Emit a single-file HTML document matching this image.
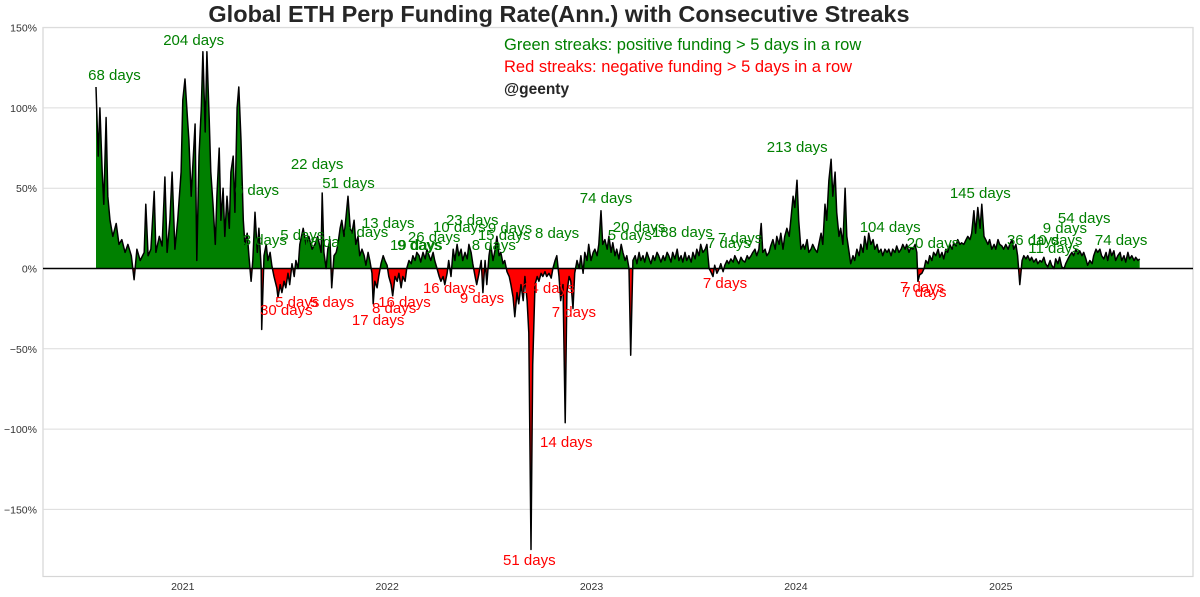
<!DOCTYPE html>
<html><head><meta charset="utf-8">
<style>
html,body{margin:0;padding:0;background:#fff;}
svg{display:block;font-family:"Liberation Sans",Arial,sans-serif;}
</style></head>
<body>
<svg id="chart" width="1200" height="597" viewBox="0 0 1200 597" xmlns="http://www.w3.org/2000/svg">
<text x="559" y="22" text-anchor="middle" font-size="23.5" font-weight="bold" fill="#262626">Global ETH Perp Funding Rate(Ann.) with Consecutive Streaks</text>
<rect x="43" y="27.5" width="1150" height="549" fill="#fff" stroke="#d6d6d6" stroke-width="1.2"/>
<g id="grid"></g>
<g id="yticks"></g>
<g id="xticks"></g>
<defs>
<clipPath id="clipPos"><rect id="cpPos" x="43" y="27" width="1150" height="0"/></clipPath>
<clipPath id="clipNeg"><rect id="cpNeg" x="43" y="0" width="1150" height="0"/></clipPath>
</defs>
<g id="series"></g>
<g id="labels"></g>
<text x="504" y="50" font-size="16.5" fill="#008000">Green streaks: positive funding &gt; 5 days in a row</text>
<text x="504" y="72" font-size="16.5" fill="#ff0000">Red streaks: negative funding &gt; 5 days in a row</text>
<text x="504" y="94" font-size="15.5" font-weight="bold" fill="#262626">@geenty</text>
</svg>
<script>
// Data: day offsets from 2020-07-30 and annualized funding (%)
const startDate = "2020-07-30";
const days = [0,4,7,11,14,18,21,25,30,36,41,46,52,57,63,68,73,79,86,89,93,98,104,107,113,118,123,127,132,136,141,146,152,155,159,163,166,170,173,177,180,184,188,191,195,198,202,205,209,213,216,220,223,227,230,234,238,241,245,248,252,255,259,263,266,270,273,277,280,284,288,291,295,296,300,304,307,311,314,318,323,325,329,332,336,339,343,346,350,354,357,361,364,370,375,380,386,391,396,402,404,407,411,414,418,421,425,429,432,436,439,443,446,450,454,457,461,464,468,471,475,479,482,486,489,493,495,498,502,505,509,513,516,520,523,527,530,534,538,541,545,548,552,555,559,563,566,570,573,577,580,584,588,591,595,598,602,605,609,613,616,620,623,627,630,634,638,641,645,648,652,655,659,663,666,670,673,677,680,684,688,691,695,698,702,705,709,713,716,720,723,727,730,734,738,741,745,748,752,755,759,763,766,770,773,777,780,784,788,791,795,798,802,805,809,813,816,820,823,827,830,834,838,841,845,848,852,855,859,863,866,870,873,877,880,884,888,891,895,898,902,905,909,913,916,920,923,927,930,934,938,941,945,948,952,955,959,963,966,970,973,977,980,984,988,991,995,998,1002,1005,1009,1013,1016,1020,1023,1027,1030,1034,1038,1041,1045,1048,1052,1055,1059,1063,1066,1070,1073,1077,1080,1084,1088,1091,1095,1098,1102,1105,1109,1113,1116,1120,1123,1127,1130,1134,1138,1141,1145,1148,1152,1155,1159,1163,1166,1170,1173,1177,1180,1184,1188,1191,1195,1198,1202,1205,1209,1213,1216,1220,1223,1227,1230,1234,1238,1241,1245,1248,1252,1255,1259,1263,1266,1270,1273,1277,1280,1284,1288,1291,1295,1298,1302,1305,1309,1313,1316,1320,1323,1327,1330,1334,1338,1341,1345,1348,1352,1355,1359,1363,1366,1370,1373,1377,1380,1384,1388,1391,1395,1398,1402,1405,1409,1413,1416,1420,1423,1427,1430,1434,1438,1441,1445,1448,1452,1455,1459,1463,1466,1468,1471,1475,1479,1482,1486,1489,1493,1496,1500,1504,1507,1511,1514,1518,1521,1525,1529,1532,1536,1539,1543,1546,1550,1554,1557,1561,1564,1568,1571,1575,1579,1582,1586,1589,1593,1596,1600,1604,1607,1611,1614,1618,1621,1625,1629,1632,1636,1639,1643,1646,1650,1654,1657,1661,1664,1668,1671,1675,1679,1682,1686,1689,1693,1696,1700,1704,1707,1711,1714,1718,1721,1725,1729,1732,1736,1739,1743,1746,1750,1754,1757,1761,1764,1768,1771,1775,1779,1782,1786,1789,1793,1796,1800,1804,1807,1811,1814,1818,1821,1825,1829,1832,1836,1839,1843,1846,1850,1854,1857,1861,1864];
const rates = [113,70,100,60,40,94,45,30,20,28,15,18,10,15,8,-7,12,5,10,40,8,12,48,10,20,14,57,10,30,60,12,30,60,105,118,95,80,45,65,90,5,70,100,135,85,135,95,60,40,15,45,75,30,50,20,45,25,60,70,35,100,113,80,30,15,22,8,-8,5,35,10,25,0,-38,8,15,5,10,2,-5,-12,-18,-10,-15,-8,-12,-3,-10,3,-5,5,0,15,25,15,20,12,15,20,10,47,10,0,12,18,-12,8,10,15,25,30,20,30,45,25,22,30,15,20,8,12,8,2,10,5,-3,-22,-8,-12,-5,3,8,5,2,-5,-10,-17,-5,-8,-3,-12,-5,-8,0,5,3,8,5,10,8,4,10,6,12,8,5,10,5,0,-5,-8,-5,-10,-3,5,-5,12,5,15,8,12,5,10,6,15,10,3,-5,-10,-3,5,-15,5,-10,8,15,5,12,20,8,10,3,5,-2,-5,-10,-18,-30,-15,-22,-10,-20,-5,-20,-40,-175,-60,-10,-5,-8,-3,-5,-2,-5,-3,-6,0,5,8,-5,-20,-10,-96,-15,-5,-8,-25,-3,5,0,8,-3,10,5,15,5,10,12,8,15,36,15,18,12,20,10,16,8,12,6,15,10,5,8,0,-54,5,8,3,10,5,8,4,10,6,3,8,5,10,8,4,8,5,10,8,4,10,6,12,5,8,4,10,5,8,4,10,6,12,8,15,10,12,15,0,-2,-5,2,-3,0,3,-2,2,5,3,6,4,8,5,3,7,5,4,8,6,8,10,12,8,12,28,10,12,8,10,14,18,12,20,15,22,12,20,25,20,30,45,38,55,30,12,15,12,18,10,12,15,12,10,15,22,15,40,30,55,68,45,60,35,20,25,15,50,20,10,3,8,5,12,8,15,10,20,12,22,15,18,12,15,10,12,8,12,10,12,8,12,10,14,10,12,15,12,15,10,13,12,15,10,-8,-4,-3,0,5,3,8,5,10,8,12,7,10,6,12,10,15,12,16,14,18,15,16,15,18,20,18,22,36,22,38,25,40,20,18,15,18,12,15,12,18,15,14,12,15,12,15,18,12,15,8,-10,5,8,6,8,5,7,4,6,3,5,4,7,3,1,5,2,0,6,3,7,1,0,3,6,8,10,8,12,9,11,8,10,6,2,5,3,8,12,10,12,8,6,10,5,12,8,11,5,8,10,5,8,4,10,6,8,5,7,5,6];
const yTicks = [150,100,50,0,-50,-100,-150];
const yTickLabels = ["150%","100%","50%","0%","\u221250%","\u2212100%","\u2212150%"];
const xTickYears = [2021,2022,2023,2024,2025];
// Streak annotations: text, anchor day offset, anchor value level (%), colour class
const streakText = ["68 days","204 days","6 days","22 days","51 days","5 days","18 days","3 days","13 days","6 days","19 days","9 days","26 days","10 days","23 days","15 days","9 days","8 days","8 days","74 days","20 days","5 days","188 days","7 days","7 days","213 days","104 days","20 days","145 days","36 days","10 days","9 days","54 days","11 days","74 days","30 days","5 days","5 days","17 days","8 days","16 days","16 days","9 days","14 days","7 days","14 days","51 days","7 days","7 days","7 days"];
const streakDay = [-14,120,248,348,404,329,368,262,475,443,525,538,557,602,625,682,700,671,784,864,923,914,993,1091,1111,1198,1364,1448,1525,1627,1668,1691,1718,1665,1784,293,320,382,457,493,504,584,650,761,814,793,727,1084,1436,1440];
const streakVal = [117.4,139.2,45.8,62,50.1,17.7,13.4,14.6,25.2,19.6,11.5,11.5,16.5,22.7,27.1,17.7,22.1,11.5,19,40.8,22.7,17.7,19.6,12.8,15.9,72.5,22.7,12.8,43.9,14.6,14.6,22.1,28.3,9.7,14.6,-29,-24,-24,-35.2,-27.7,-24,-15.3,-21.5,-15.3,-30.2,-111,-184.6,-12.1,-14.6,-17.7];
const streakPos = ["g","g","g","g","g","g","g","g","g","g","g","g","g","g","g","g","g","g","g","g","g","g","g","g","g","g","g","g","g","g","g","g","g","g","g","r","r","r","r","r","r","r","r","r","r","r","r","r","r","r"];

const NS="http://www.w3.org/2000/svg";
const X0=96, PXD=0.5599, Y0=268.5, PYV=1.606;
const startMs=Date.parse(startDate+"T00:00:00Z");
function xScale(d){return X0+d*PXD;}
function yScale(v){return Y0-v*PYV;}
function dayOf(y){return (Date.parse(y+"-01-01T00:00:00Z")-startMs)/86400000;}
function mk(tag,attrs,parent){const e=document.createElementNS(NS,tag);for(const k in attrs)e.setAttribute(k,attrs[k]);parent.appendChild(e);return e;}

const grid=document.getElementById('grid'), yt=document.getElementById('yticks'), xt=document.getElementById('xticks');
yTicks.forEach((v,i)=>{
  const y=yScale(v);
  if(v!==0){const l=mk('line',{x1:43,x2:1193,y1:y,y2:y,stroke:'#dcdcdc','stroke-width':1},grid);
  
  }
  const t=mk('text',{x:37,y:y+4,'text-anchor':'end','font-size':10.5,fill:'#333'},yt);
  t.textContent=yTickLabels[i];
  
  
});
xTickYears.forEach(yr=>{
  const t=mk('text',{x:xScale(dayOf(yr)),y:590,'text-anchor':'middle','font-size':10.5,fill:'#333'},xt);
  t.textContent=String(yr);
  
  
});

const zy=yScale(0);
document.getElementById('cpPos').setAttribute('height',zy-27);
document.getElementById('cpNeg').setAttribute('y',zy);
document.getElementById('cpNeg').setAttribute('height',597-zy);
const series=document.getElementById('series');
let pts=days.map((d,i)=>xScale(d).toFixed(1)+','+yScale(rates[i]).toFixed(1));
const areaD='M'+xScale(days[0]).toFixed(1)+','+zy+' L'+pts.join(' L')+' L'+xScale(days[days.length-1]).toFixed(1)+','+zy+' Z';
const ap=mk('path',{d:areaD,fill:'#008000','clip-path':'url(#clipPos)'},series);


const an=mk('path',{d:areaD,fill:'#ff0000','clip-path':'url(#clipNeg)'},series);


const zl=mk('line',{x1:43,x2:1193,y1:zy,y2:zy,stroke:'#000','stroke-width':1.5},series);


const ln=mk('path',{d:'M'+pts.join(' L'),fill:'none',stroke:'#000','stroke-width':1.5,'stroke-linejoin':'round'},series);



const labels=document.getElementById('labels');
streakText.forEach((s,i)=>{
  const g=streakPos[i]==='g';
  const t=mk('text',{x:xScale(streakDay[i]),y:yScale(streakVal[i]),'font-size':15,fill:g?'#008000':'#ff0000'},labels);
  t.textContent=s;
  
  
});
</script>
</body></html>
